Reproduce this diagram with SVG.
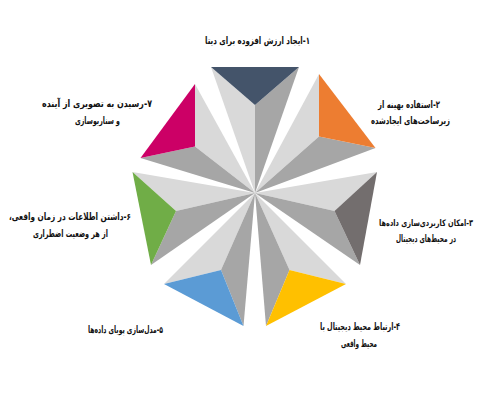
<svg xmlns="http://www.w3.org/2000/svg" width="500" height="400" viewBox="0 0 500 400">
<style>
.lt{fill:#d9d9d9}
.dk{fill:#a6a6a6}
.lbl{font-family:"DejaVu Sans",sans-serif;font-size:10px;font-weight:bold;fill:#111;direction:rtl;text-anchor:middle}
.sm{font-size:9px}
</style>
<rect width="500" height="400" fill="#fff"/>
<g id="node1">
<polygon class="lt" points="211,67 255,105 255,193"/>
<polygon class="dk" points="299,67 255,105 255,193"/>
<polygon fill="#44546a" points="211,67 299,67 255,105"/>
<text class="lbl" x="257.5" y="44" textLength="105" lengthAdjust="spacingAndGlyphs">۱-ایجاد ارزش افزوده برای دیتا</text>
</g>
<g id="node2">
<polygon class="lt" points="319,74 319,136.5 255,193"/>
<polygon class="dk" points="375.5,148 319,136.5 255,193"/>
<polygon fill="#ed7d31" points="319,74 375.5,148 319,136.5"/>
<text class="lbl" x="409" y="108" textLength="62" lengthAdjust="spacingAndGlyphs">۲-استفاده بهینه از</text>
<text class="lbl" x="410.5" y="124" textLength="79" lengthAdjust="spacingAndGlyphs">زیرساخت‌های ایجادشده</text>
</g>
<g id="node3">
<polygon class="lt" points="377,172 334.5,211 255,193"/>
<polygon class="dk" points="360,265 334.5,211 255,193"/>
<polygon fill="#736e6e" points="377,172 360,265 334.5,211"/>
<text class="lbl sm" x="426" y="226" textLength="94" lengthAdjust="spacingAndGlyphs">۳-امکان کاربردی‌سازی داده‌ها</text>
<text class="lbl" x="426" y="242" textLength="60" lengthAdjust="spacingAndGlyphs">در محیط‌های دیجیتال</text>
</g>
<g id="node4">
<polygon class="lt" points="346,284 289.5,270 255,193"/>
<polygon class="dk" points="266,326 289.5,270 255,193"/>
<polygon fill="#ffc000" points="346,284 266,326 289.5,270"/>
<text class="lbl" x="360" y="330" textLength="80" lengthAdjust="spacingAndGlyphs">۴-ارتباط محیط دیجیتال با</text>
<text class="lbl" x="359" y="347" textLength="36" lengthAdjust="spacingAndGlyphs">محیط واقعی</text>
</g>
<g id="node5">
<polygon class="lt" points="164,284 221,270 255,193"/>
<polygon class="dk" points="243.5,326 221,270 255,193"/>
<polygon fill="#5b9bd5" points="164,284 243.5,326 221,270"/>
<text class="lbl" x="125.5" y="333" textLength="75" lengthAdjust="spacingAndGlyphs">۵-مدل‌سازی پویای داده‌ها</text>
</g>
<g id="node6">
<polygon class="lt" points="132.5,172 176,211 255,193"/>
<polygon class="dk" points="151,265 176,211 255,193"/>
<polygon fill="#70ad47" points="132.5,172 151,265 176,211"/>
<text class="lbl" x="70" y="220" textLength="122" lengthAdjust="spacingAndGlyphs">۶-داشتن اطلاعات در زمان واقعی،</text>
<text class="lbl" x="70.5" y="237" textLength="75" lengthAdjust="spacingAndGlyphs">از هر وضعیت اضطراری</text>
</g>
<g id="node7">
<polygon class="lt" points="195,84 195,146.5 255,193"/>
<polygon class="dk" points="140.5,158 195,146.5 255,193"/>
<polygon fill="#cc0066" points="195,84 140.5,158 195,146.5"/>
<text class="lbl" x="97" y="107" textLength="110" lengthAdjust="spacingAndGlyphs">۷-رسیدن به تصویری از آینده</text>
<text class="lbl" x="97.5" y="124" textLength="45" lengthAdjust="spacingAndGlyphs">و سناریوسازی</text>
</g>
<g id="connectors"/>
</svg>
